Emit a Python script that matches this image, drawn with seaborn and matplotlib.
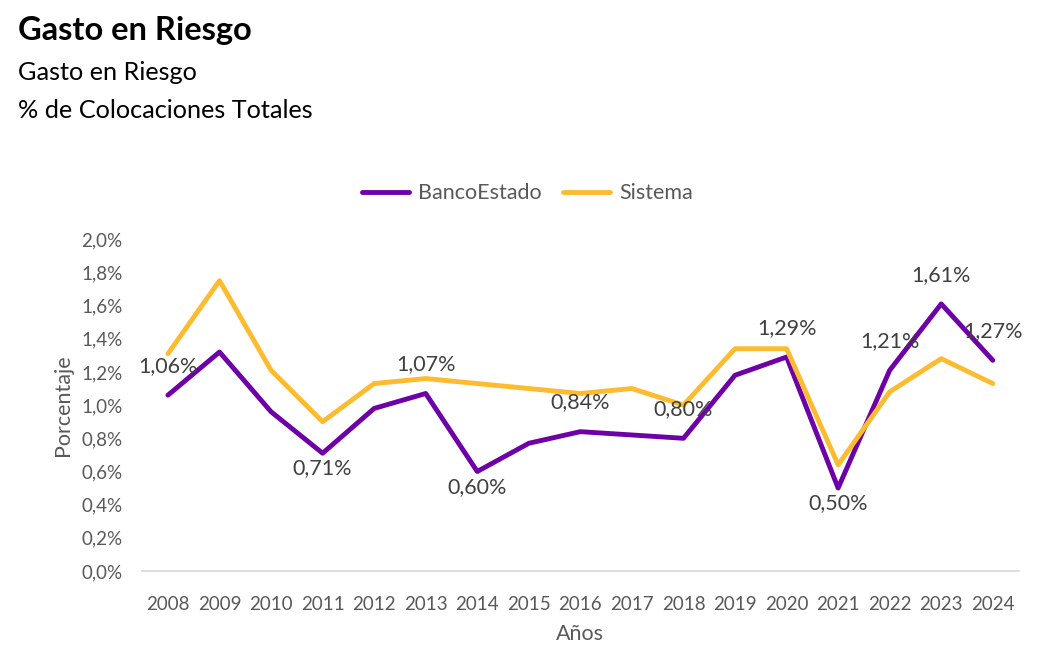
import pandas as pd
import seaborn as sns
import matplotlib.pyplot as plt
from matplotlib.lines import Line2D

# Datos (% de colocaciones totales)
anios = [2008, 2009, 2010, 2011, 2012, 2013, 2014, 2015, 2016, 2017, 2018, 2019, 2020, 2021, 2022, 2023, 2024]
banco_estado = [1.06, 1.32, 0.96, 0.71, 0.98, 1.07, 0.60, 0.77, 0.84, 0.82, 0.80, 1.18, 1.29, 0.50, 1.21, 1.61, 1.27]
sistema = [1.31, 1.75, 1.21, 0.90, 1.13, 1.16, 1.13, 1.10, 1.07, 1.10, 1.00, 1.34, 1.34, 0.64, 1.08, 1.28, 1.13]
# anios con etiqueta de BancoEstado y posicion (arriba / abajo)
etiquetas = {2008: 'up', 2011: 'down', 2013: 'up', 2014: 'down', 2016: 'up', 2018: 'up',
             2020: 'up', 2021: 'down', 2022: 'up', 2023: 'up', 2024: 'up'}

colores = {'BancoEstado': '#6E00A8', 'Sistema': '#FDBB2F'}

tabela = pd.DataFrame({
    'Año': [str(a) for a in anios] * 2,
    'Valor': banco_estado + sistema,
    'Serie': ['BancoEstado'] * len(anios) + ['Sistema'] * len(anios),
})

sns.set_style('white')
plt.rcParams['font.family'] = ['Lato', 'DejaVu Sans']

fig = plt.figure(figsize=(10.61, 6.5), dpi=100)
ax = fig.add_axes([0.134, 0.1215, 0.826, 0.5105])

sns.lineplot(data=tabela, x='Año', y='Valor', hue='Serie', palette=colores,
             linewidth=3.5, ax=ax, legend=False, sort=False)

ax.set_xlim(-0.5, len(anios) - 0.5)
ax.set_ylim(0, 2.0)
ax.set_yticks([i / 10 for i in range(0, 21, 2)])
ax.set_yticklabels([f'{i / 10:.1f}%'.replace('.', ',') for i in range(0, 21, 2)])

gris = '#595959'
ax.tick_params(axis='both', labelsize=13.5, colors=gris, length=0)
ax.tick_params(axis='x', pad=18)
ax.tick_params(axis='y', pad=14)
for lado in ['top', 'right', 'left']:
    ax.spines[lado].set_visible(False)
ax.spines['bottom'].set_color('#D9D9D9')
ax.spines['bottom'].set_linewidth(1.2)

ax.set_xlabel('Años', fontsize=15.5, color=gris, labelpad=8)
ax.set_ylabel('Porcentaje', fontsize=15.5, color=gris, labelpad=6)

# etiquetas de datos
for i, a in enumerate(anios):
    if a in etiquetas:
        txt = f'{banco_estado[i]:.2f}%'.replace('.', ',')
        dy = 21 if etiquetas[a] == 'up' else -11
        ax.annotate(txt, (i, banco_estado[i]), xytext=(0, dy), textcoords='offset points',
                    ha='center', va='center', fontsize=15.5, color='#404040')

# leyenda
handles = [Line2D([0], [0], color=colores[s], lw=3.5) for s in colores]
fig.legend(handles, list(colores), loc='center', bbox_to_anchor=(0.497, 0.703), ncol=2,
           frameon=False, fontsize=15.5, handlelength=2.2, columnspacing=1.0, handletextpad=0.4,
           labelcolor=gris)

fig.text(0.017, 0.953, 'Gasto en Riesgo', fontsize=23.5, fontweight='bold', color='black', va='center')
fig.text(0.017, 0.888, 'Gasto en Riesgo', fontsize=18.2, color='black', va='center')
fig.text(0.017, 0.830, '% de Colocaciones Totales', fontsize=18.2, color='black', va='center')

fig.savefig('out.png', dpi=100)
